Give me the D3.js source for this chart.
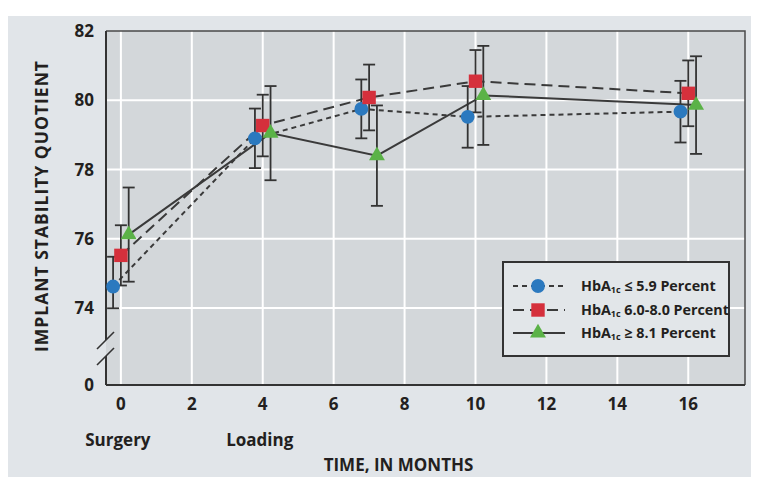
<!DOCTYPE html>
<html>
<head>
<meta charset="utf-8">
<style>
  body { margin: 0; background: #fff; }
  svg text { font-family: "Open Sans", sans-serif; font-weight: 700; fill: #231f20; }
</style>
</head>
<body>
<div id="chart"></div>
<script src="https://d3js.org/d3.v7.min.js"></script>
<script>
// time points (months)
const months = [0, 4, 7, 10, 16];
const xTicks = [0, 2, 4, 6, 8, 10, 12, 14, 16];
const yTicks = [0, 74, 76, 78, 80, 82];
const yGrid = [74, 76, 78, 80];
const eventLabels = [{ t: 0, label: 'Surgery' }, { t: 4, label: 'Loading' }];

// HbA1c <= 5.9
const lowMean = [74.62, 78.9, 79.75, 79.52, 79.67];
const lowErr = [0.86, 0.86, 0.85, 0.89, 0.89];
// HbA1c 6.0-8.0
const midMean = [75.52, 79.27, 80.08, 80.55, 80.2];
const midErr = [0.87, 0.89, 0.95, 0.9, 0.95];
// HbA1c >= 8.1
const highMean = [76.12, 79.05, 78.4, 80.14, 79.86];
const highErr = [1.36, 1.36, 1.45, 1.43, 1.41];

const series = [
  { mean: lowMean, err: lowErr, dodge: -0.22, color: '#2b79bf', shape: 'circle', dash: '5,4',
    pre: 'HbA', sub: '1c', post: ' ≤ 5.9 Percent' },
  { mean: midMean, err: midErr, dodge: 0, color: '#d5303c', shape: 'square', dash: '11,6',
    pre: 'HbA', sub: '1c', post: ' 6.0-8.0 Percent' },
  { mean: highMean, err: highErr, dodge: 0.22, color: '#5bb247', shape: 'triangle', dash: null,
    pre: 'HbA', sub: '1c', post: ' ≥ 8.1 Percent' }
];

const width = 759, height = 477;
const plot = { left: 106, right: 745, top: 31, bottom: 385 };

const svg = d3.select('#chart').append('svg')
  .attr('width', width).attr('height', height);

// outer panel
svg.append('rect').attr('x', 8).attr('y', 16).attr('width', 743).attr('height', height - 16)
  .attr('fill', '#e1e5e9');

const x = d3.scaleLinear().domain([-0.42, 17.6]).range([plot.left, plot.right]);
// broken axis: 0 sits just below 74
const y = d3.scaleLinear().domain([0, 74, 82]).range([plot.bottom, 308, plot.top]);

// plot background
svg.append('rect')
  .attr('x', plot.left).attr('y', plot.top)
  .attr('width', plot.right - plot.left).attr('height', plot.bottom - plot.top)
  .attr('fill', '#d3d7da');

// grid
svg.append('g').selectAll('line').data(xTicks).join('line')
  .attr('x1', d => x(d)).attr('x2', d => x(d))
  .attr('y1', plot.top).attr('y2', plot.bottom)
  .attr('stroke', '#fff').attr('stroke-width', 2);
svg.append('g').selectAll('line').data(yGrid).join('line')
  .attr('x1', plot.left).attr('x2', plot.right)
  .attr('y1', d => y(d)).attr('y2', d => y(d))
  .attr('stroke', '#fff').attr('stroke-width', 2);

// frame
svg.append('path')
  .attr('d', `M${plot.left},${plot.top}H${plot.right}V${plot.bottom}`)
  .attr('fill', 'none').attr('stroke', '#4a4a4a').attr('stroke-width', 1.5);
svg.append('line')
  .attr('x1', plot.left).attr('x2', plot.right)
  .attr('y1', plot.bottom).attr('y2', plot.bottom)
  .attr('stroke', '#333').attr('stroke-width', 2);

// left axis with break
const gapTop = 340, gapBottom = 356;
svg.append('path')
  .attr('d', `M${plot.left},${plot.top}V${gapTop}M${plot.left},${gapBottom}V${plot.bottom}`)
  .attr('stroke', '#333').attr('stroke-width', 2).attr('fill', 'none');
[gapTop, gapBottom].forEach(cy => {
  svg.append('line')
    .attr('x1', plot.left - 9).attr('y1', cy + 9)
    .attr('x2', plot.left + 8).attr('y2', cy - 8)
    .attr('stroke', '#333').attr('stroke-width', 1.6);
});

// tick labels
svg.append('g').selectAll('text').data(yTicks).join('text')
  .attr('x', 94).attr('y', d => y(d))
  .attr('dy', '0.36em')
  .attr('text-anchor', 'end')
  .style('font-size', '17px')
  .text(d => d);
svg.append('g').selectAll('text').data(xTicks).join('text')
  .attr('x', d => x(d)).attr('y', 410)
  .attr('text-anchor', 'middle')
  .style('font-size', '17px')
  .text(d => d);
svg.append('g').selectAll('text').data(eventLabels).join('text')
  .attr('x', d => x(d.t) - 3).attr('y', 446)
  .attr('text-anchor', 'middle')
  .style('font-size', '17px')
  .text(d => d.label);

// axis titles
svg.append('text')
  .attr('x', (plot.left + plot.right) / 2 - 27).attr('y', 471)
  .attr('text-anchor', 'middle')
  .style('font-size', '17px')
  .text('TIME, IN MONTHS');
svg.append('text')
  .attr('transform', 'translate(48,206) rotate(-90)')
  .attr('text-anchor', 'middle')
  .style('font-size', '17.5px')
  .style('letter-spacing', '1px')
  .text('IMPLANT STABILITY QUOTIENT');

// series lines
const line = d3.line().x(d => x(d.t)).y(d => y(d.v));
series.forEach(s => {
  s.pts = months.map((m, i) => ({ t: m + s.dodge, v: s.mean[i], e: s.err[i] }));
  svg.append('path').datum(s.pts)
    .attr('d', line)
    .attr('fill', 'none')
    .attr('stroke', '#3a3a3a')
    .attr('stroke-width', 2)
    .attr('stroke-dasharray', s.dash);
});

// error bars
series.forEach(s => {
  const g = svg.append('g').attr('stroke', '#333').attr('stroke-width', 1.8);
  g.selectAll('.bar').data(s.pts).join('line')
    .attr('x1', d => x(d.t)).attr('x2', d => x(d.t))
    .attr('y1', d => y(d.v - d.e)).attr('y2', d => y(d.v + d.e));
  g.selectAll('.capTop').data(s.pts).join('line').attr('class', 'capTop')
    .attr('x1', d => x(d.t) - 6).attr('x2', d => x(d.t) + 6)
    .attr('y1', d => y(d.v + d.e)).attr('y2', d => y(d.v + d.e));
  g.selectAll('.capBot').data(s.pts).join('line').attr('class', 'capBot')
    .attr('x1', d => x(d.t) - 6).attr('x2', d => x(d.t) + 6)
    .attr('y1', d => y(d.v - d.e)).attr('y2', d => y(d.v - d.e));
});

// markers
const symbolFor = {
  circle: d3.symbol(d3.symbolCircle, 150),
  square: d3.symbol(d3.symbolSquare, 180),
  triangle: d3.symbol(d3.symbolTriangle, 110)
};
series.forEach(s => {
  svg.append('g').selectAll('path').data(s.pts).join('path')
    .attr('transform', d => `translate(${x(d.t)},${y(d.v)})`)
    .attr('d', symbolFor[s.shape])
    .attr('fill', s.color);
});

// legend
const lg = svg.append('g');
lg.append('rect')
  .attr('x', 503).attr('y', 262).attr('width', 226).attr('height', 94)
  .attr('fill', '#e2e6e9').attr('stroke', '#333').attr('stroke-width', 2);
const rowY = [286, 310, 333];
series.forEach((s, i) => {
  const ry = rowY[i];
  lg.append('line')
    .attr('x1', 513).attr('x2', 565).attr('y1', ry).attr('y2', ry)
    .attr('stroke', '#3a3a3a').attr('stroke-width', 2)
    .attr('stroke-dasharray', s.dash);
  lg.append('path')
    .attr('transform', `translate(538,${ry})`)
    .attr('d', symbolFor[s.shape])
    .attr('fill', s.color);
  const t = lg.append('text').attr('x', 581).attr('y', ry + 5).style('font-size', '14.3px');
  t.append('tspan').text(s.pre);
  t.append('tspan').attr('dy', 2).style('font-size', '9px').text(s.sub);
  t.append('tspan').attr('dy', -2).text(s.post);
});
</script>
</body>
</html>
